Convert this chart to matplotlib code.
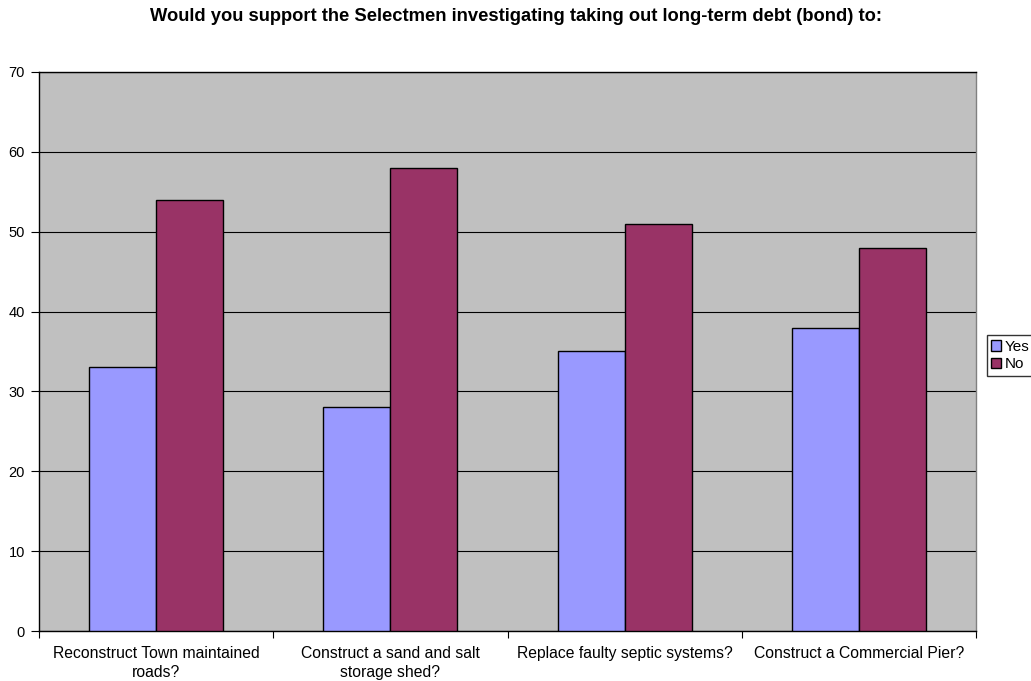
import numpy as np
import matplotlib.pyplot as plt

# data
categories = ["Reconstruct Town maintained\nroads?",
              "Construct a sand and salt\nstorage shed?",
              "Replace faulty septic systems?",
              "Construct a Commercial Pier?"]
yes_votes = [33, 28, 35, 38]
no_votes = [54, 58, 51, 48]
series_names = ["Yes", "No"]

plt.rcParams['font.family'] = ['Liberation Sans', 'DejaVu Sans']

fig = plt.figure(figsize=(10.31, 6.81), dpi=100)
ax = fig.add_axes([0.0378, 0.0734, 0.9089, 0.8209])

x = np.arange(len(categories))
bw = 1 / 3.5
ax.bar(x - bw / 2, yes_votes, bw, color='#9999FF', edgecolor='black', linewidth=1, label=series_names[0], zorder=3)
ax.bar(x + bw / 2, no_votes, bw, color='#993366', edgecolor='black', linewidth=1, label=series_names[1], zorder=3)

ax.set_facecolor('#C0C0C0')
ax.set_xlim(-0.5, len(categories) - 0.5)
ax.set_ylim(0, 70)
ax.set_yticks(range(0, 71, 10))
ax.yaxis.grid(True, color='black', linewidth=0.8, zorder=1)

# category labels between boundary ticks
ax.set_xticks(np.arange(-0.5, len(categories), 1.0))
ax.set_xticklabels([])
ax.set_xticks(x, minor=True)
ax.set_xticklabels(categories, minor=True, fontsize=11.3, linespacing=1.3)
ax.tick_params(axis='x', which='minor', length=0, pad=11)
ax.tick_params(axis='x', which='major', length=5, direction='out', color='black')
ax.tick_params(axis='y', length=6, direction='out', labelsize=10.5, pad=4)

ax.spines['left'].set_color('black')
ax.spines['bottom'].set_color('black')
ax.spines['top'].set_color('black')
ax.spines['right'].set_color('#808080')
for s in ax.spines.values():
    s.set_linewidth(1)

fig.suptitle("Would you support the Selectmen investigating taking out long-term debt (bond) to:",
             x=0.5, y=0.988, fontsize=13.2, fontweight='bold')

leg = fig.legend(loc='center left', bbox_to_anchor=(0.957, 0.478), fontsize=11,
                 frameon=True, fancybox=False, shadow=False, borderpad=0.3,
                 handlelength=0.65, handleheight=0.65, handletextpad=0.25, labelspacing=0.2,
                 borderaxespad=0)
leg.get_frame().set_edgecolor('black')
leg.get_frame().set_linewidth(1)

fig.savefig("out.png", dpi=100)
